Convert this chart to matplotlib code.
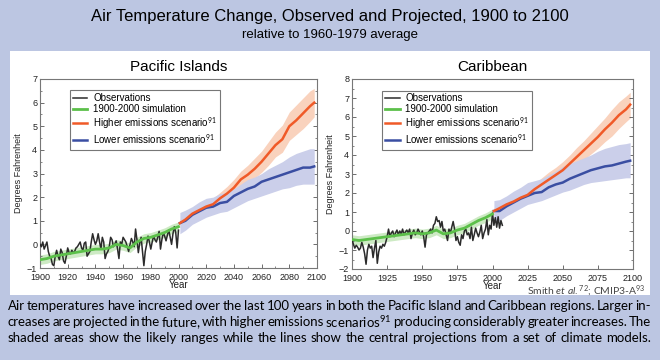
import matplotlib
matplotlib.use("Agg")
import matplotlib.pyplot as plt
from matplotlib.patches import Rectangle
from matplotlib.ticker import MultipleLocator

plt.rcParams["mathtext.fontset"] = "custom"
plt.rcParams["mathtext.rm"] = "Lato"
plt.rcParams["mathtext.it"] = "Lato:italic"

# ---------------- data ----------------
obs_years_pac = list(range(1900, 2001))
obs_pac = [0.0, -0.1, 0.1, -0.2, -0.05, 0.1, -0.3, -0.5, -0.6, -0.85,
           -0.9, -0.5, -0.25, -0.5, -0.65, -0.2, -0.35, -0.7, -0.8, -0.5,
           -0.15, -0.35, -0.4, -0.25, -0.35, -0.3, -0.15, -0.1, 0.0, 0.1,
           -0.15, -0.25, 0.05, 0.1, -0.5, -0.4, -0.3, 0.1, 0.45, 0.2,
           0.0, 0.15, 0.45, 0.1, -0.2, 0.3, 0.1, -0.6, -0.4, -0.3,
           -0.1, 0.3, 0.2, -0.1, 0.0, 0.15, -0.2, -0.6, 0.1, 0.0,
           0.3, 0.2, 0.1, -0.1, -0.3, 0.0, 0.25, 0.1, -0.1, 0.65,
           0.2, -0.35, 0.05, 0.3, -0.3, -0.9, -0.3, 0.0, 0.35, 0.1,
           -0.2, 0.1, 0.35, 0.2, 0.1, 0.3, 0.55, -0.2, 0.2, 0.5,
           0.35, 0.15, 0.4, 0.6, 0.3, 0.0, 0.45, 0.75, 0.5, -0.15,
           0.6]

obs_years_car = list(range(1900, 2008))
obs_car = [-0.45, -0.7, -0.9, -0.75, -0.85, -1.0, -0.9, -0.6, -0.85, -1.2,
           -1.75, -1.0, -0.7, -0.9, -0.8, -1.4, -0.9, -0.5, -1.7, -1.1,
           -0.8, -0.9, -0.7, -0.8, -0.6, -0.3, 0.1, -0.3, -0.1, 0.0,
           -0.3, -0.1, 0.05, -0.2, 0.0, -0.15, 0.1, -0.2, -0.05, 0.05,
           -0.1, 0.1, -0.4, -0.1, 0.05, -0.2, -0.1, 0.1, -0.05, -0.2,
           0.0, -0.3, -0.85, -0.2, -0.1, 0.0, 0.1, -0.1, 0.3, 0.4,
           0.75, 0.5, 0.55, 0.2, 0.5, 0.0, 0.1, -0.2, -0.5, 0.1,
           -0.1, 0.2, 0.5, 0.1, -0.5, -0.3, -0.6, -0.75, -0.2, -0.4,
           0.0, 0.1, -0.2, -0.1, -0.4, 0.2, -0.5, -0.2, 0.15, -0.1,
           -0.3, -0.05, 0.3, -0.4, -0.1, 0.1, 0.6, -0.2, 0.3, 0.1,
           0.95, 0.3, 0.7, 0.2, 0.75, 0.15, 0.55, 0.3]

sim_years = list(range(1900, 2001, 5))
sim_pac = [-0.65, -0.6, -0.5, -0.45, -0.4, -0.35, -0.3, -0.25, -0.2, -0.2,
           -0.15, 0.0, -0.05, -0.15, 0.1, 0.25, 0.3, 0.4, 0.5, 0.65, 0.75]
sim_pac_lo = [-0.85, -0.8, -0.7, -0.65, -0.6, -0.55, -0.5, -0.45, -0.4, -0.4,
              -0.35, -0.2, -0.25, -0.35, -0.1, 0.05, 0.1, 0.2, 0.3, 0.45, 0.55]
sim_pac_hi = [-0.45, -0.4, -0.3, -0.25, -0.2, -0.15, -0.1, -0.05, 0.0, 0.0,
              0.05, 0.2, 0.15, 0.05, 0.3, 0.45, 0.5, 0.6, 0.7, 0.85, 0.95]
sim_car = [-0.45, -0.5, -0.45, -0.4, -0.35, -0.3, -0.25, -0.2, -0.15, -0.1,
           -0.15, -0.1, 0.05, -0.15, -0.1, 0.05, 0.15, 0.35, 0.55, 0.7, 0.9]
sim_car_lo = [-0.7, -0.75, -0.7, -0.65, -0.6, -0.55, -0.5, -0.45, -0.4, -0.35,
              -0.4, -0.35, -0.2, -0.4, -0.35, -0.2, -0.1, 0.1, 0.3, 0.45, 0.65]
sim_car_hi = [-0.2, -0.25, -0.2, -0.15, -0.1, -0.05, 0.0, 0.05, 0.1, 0.15,
              0.1, 0.15, 0.3, 0.1, 0.15, 0.3, 0.4, 0.6, 0.8, 0.95, 1.15]

proj_years = [2001, 2005, 2010, 2015, 2020, 2025, 2030, 2035, 2040, 2045, 2050,
              2055, 2060, 2065, 2070, 2075, 2080, 2085, 2090, 2095, 2098]

low_pac = [0.9, 1.0, 1.25, 1.4, 1.55, 1.6, 1.75, 1.8, 2.05, 2.2, 2.35,
           2.45, 2.65, 2.75, 2.85, 2.95, 3.05, 3.15, 3.25, 3.25, 3.3]
low_pac_lo = [0.45, 0.6, 0.85, 1.0, 1.15, 1.25, 1.35, 1.4, 1.55, 1.7, 1.85,
              1.95, 2.05, 2.15, 2.25, 2.35, 2.4, 2.5, 2.55, 2.55, 2.55]
low_pac_hi = [1.35, 1.45, 1.6, 1.8, 1.95, 2.0, 2.15, 2.2, 2.35, 2.55, 2.75,
              2.85, 3.0, 3.2, 3.35, 3.5, 3.7, 3.85, 3.95, 4.05, 4.05]
high_pac = [0.9, 1.05, 1.3, 1.45, 1.6, 1.7, 1.95, 2.15, 2.4, 2.75, 2.95,
            3.2, 3.5, 3.85, 4.2, 4.45, 5.0, 5.25, 5.55, 5.85, 6.0]
high_pac_lo = [0.75, 0.9, 1.1, 1.25, 1.4, 1.5, 1.7, 1.9, 2.1, 2.4, 2.6,
               2.8, 3.05, 3.35, 3.7, 3.9, 4.4, 4.65, 4.9, 5.2, 5.4]
high_pac_hi = [1.05, 1.2, 1.45, 1.65, 1.8, 1.95, 2.2, 2.45, 2.75, 3.1, 3.35,
               3.65, 3.95, 4.35, 4.75, 5.05, 5.6, 5.9, 6.2, 6.5, 6.6]

low_car = [1.05, 1.05, 1.3, 1.5, 1.7, 1.85, 2.0, 2.05, 2.3, 2.45, 2.55,
           2.75, 2.9, 3.05, 3.2, 3.3, 3.4, 3.45, 3.55, 3.65, 3.7]
low_car_lo = [0.5, 0.55, 0.8, 1.0, 1.2, 1.4, 1.5, 1.6, 1.75, 1.9, 2.05,
              2.15, 2.3, 2.45, 2.55, 2.6, 2.65, 2.7, 2.75, 2.8, 2.8]
low_car_hi = [1.6, 1.65, 1.85, 2.1, 2.3, 2.55, 2.65, 2.75, 2.95, 3.15, 3.4,
              3.55, 3.7, 3.85, 4.0, 4.2, 4.35, 4.45, 4.55, 4.6, 4.65]
high_car = [1.05, 1.2, 1.4, 1.55, 1.75, 1.9, 2.2, 2.45, 2.7, 2.95, 3.2,
            3.55, 3.9, 4.25, 4.6, 4.95, 5.35, 5.7, 6.1, 6.4, 6.65]
high_car_lo = [0.9, 1.05, 1.2, 1.35, 1.5, 1.65, 1.9, 2.1, 2.35, 2.6, 2.85,
               3.15, 3.45, 3.75, 4.05, 4.35, 4.7, 5.0, 5.4, 5.75, 5.95]
high_car_hi = [1.2, 1.4, 1.6, 1.8, 2.0, 2.2, 2.5, 2.8, 3.1, 3.35, 3.65,
               4.0, 4.4, 4.75, 5.15, 5.55, 5.95, 6.4, 6.8, 7.1, 7.3]

legend_labels = ["Observations", "1900-2000 simulation",
                 "Higher emissions scenario$^{91}$", "Lower emissions scenario$^{91}$"]

title = "Air Temperature Change, Observed and Projected, 1900 to 2100"
subtitle = "relative to 1960-1979 average"
caption_lines = [
    "Air temperatures have increased over the last 100 years in both the Pacific Island and Caribbean regions. Larger in-",
    "creases are projected in the future, with higher emissions scenarios$^{91}$ producing considerably greater increases. The",
    "shaded areas show the likely ranges while the lines show the central projections from a set of climate models.",
]

# ---------------- style ----------------
BG = "#bcc6e2"
C_OBS = "#2b2b2b"
C_SIM = "#5cc04a"
C_SIM_B = "#cdeac4"
C_HI = "#f05a28"
C_HI_B = "#f9d2bd"
C_LO = "#3a4ea2"
C_LO_B = "#cbcfea"
FONT = "Liberation Sans"

W, H = 660, 360
fig = plt.figure(figsize=(W / 100, H / 100), dpi=100)
fig.patch.set_facecolor(BG)
fig.patches.append(Rectangle((10 / W, 1 - 295 / H), 640 / W, 244 / H,
                             transform=fig.transFigure, facecolor="white",
                             edgecolor="none", zorder=-10))

fig.text(0.5, 1 - 17 / H, title, ha="center", va="center", fontsize=12, family=FONT)
fig.text(0.5, 1 - 35 / H, subtitle, ha="center", va="center", fontsize=9.5, family=FONT)


def panel(rect, name, obs_x, obs_y, sim_y, sim_lo, sim_hi,
          lo, lo_lo, lo_hi, hi, hi_lo, hi_hi, ylim, xstep, xminor):
    ax = fig.add_axes(rect, zorder=2)
    ax.set_facecolor("white")
    ax.fill_between(sim_years, sim_lo, sim_hi, color=C_SIM_B, lw=0, zorder=1)
    ax.fill_between(proj_years, hi_lo, hi_hi, color=C_HI_B, lw=0, zorder=1)
    ax.fill_between(proj_years, lo_lo, lo_hi, color=C_LO_B, lw=0, zorder=2)
    ax.plot(obs_x, obs_y, color=C_OBS, lw=1.1, zorder=3, label=legend_labels[0])
    ax.plot(sim_years, sim_y, color=C_SIM, lw=2.0, zorder=4, label=legend_labels[1])
    ax.plot(proj_years, hi, color=C_HI, lw=1.8, zorder=5, label=legend_labels[2])
    ax.plot(proj_years, lo, color=C_LO, lw=1.8, zorder=4, label=legend_labels[3])
    ax.set_xlim(1900, 2100)
    ax.set_ylim(*ylim)
    ax.xaxis.set_major_locator(MultipleLocator(xstep))
    if xminor:
        ax.xaxis.set_minor_locator(MultipleLocator(xminor))
    ax.yaxis.set_major_locator(MultipleLocator(1))
    ax.yaxis.set_minor_locator(MultipleLocator(0.5))
    for s in ax.spines.values():
        s.set_color("#777777")
        s.set_linewidth(0.8)
    ax.tick_params(which="both", direction="in", right=True, top=False,
                   colors="#555555", labelcolor="#222222", labelsize=6.5, pad=2)
    ax.tick_params(axis="x", which="both", pad=3.5)
    ax.tick_params(which="major", length=3, width=0.6)
    ax.tick_params(which="minor", length=1.6, width=0.5)
    for lab in ax.get_xticklabels() + ax.get_yticklabels():
        lab.set_family(FONT)
    ax.set_xlabel("Year", fontsize=7, family=FONT, labelpad=-1, color="#222222")
    ax.set_ylabel("Degrees Fahrenheit", fontsize=6.5, family=FONT, labelpad=3,
                  color="#222222")
    ax.set_title(name, fontsize=11, family=FONT, pad=6)
    leg = ax.legend(loc="upper left", bbox_to_anchor=(0.09, 0.965),
                    frameon=True, fancybox=False, handlelength=1.5,
                    handletextpad=0.6, labelspacing=0.08, borderpad=0.3,
                    prop={"family": FONT, "size": 7})
    leg.get_frame().set_edgecolor("#555555")
    leg.get_frame().set_linewidth(0.8)
    return ax


panel([40 / W, 1 - 268 / H, 277 / W, 189 / H], "Pacific Islands",
      obs_years_pac, obs_pac, sim_pac, sim_pac_lo, sim_pac_hi,
      low_pac, low_pac_lo, low_pac_hi, high_pac, high_pac_lo, high_pac_hi,
      (-1, 7), 20, 10)
panel([352 / W, 1 - 269 / H, 281 / W, 190 / H], "Caribbean",
      obs_years_car, obs_car, sim_car, sim_car_lo, sim_car_hi,
      low_car, low_car_lo, low_car_hi, high_car, high_car_lo, high_car_hi,
      (-2, 8), 25, None)

fig.text(646 / W, 1 - 291 / H,
         r"Smith $\mathit{et\ al.}^{72}$; CMIP3-A$^{93}$",
         ha="right", va="center", fontsize=7.5, family="Lato", color="#444444")

# ---------------- caption (justified) ----------------
fig.canvas.draw()
r = fig.canvas.get_renderer()
x0, x1 = 8, 651
for i, line in enumerate(caption_lines):
    y = 1 - (306 + 16 * i) / H
    words = line.split(" ")
    texts = [fig.text(0, y, w, ha="left", va="center", fontsize=9.5,
                      family="Lato", color="#000000") for w in words]
    widths = [t.get_window_extent(r).width for t in texts]
    gap = (x1 - x0 - sum(widths)) / (len(words) - 1)
    x = x0
    for t, w in zip(texts, widths):
        t.set_x(x / W)
        x += w + gap

fig.savefig("out.png", dpi=100, facecolor=BG)
